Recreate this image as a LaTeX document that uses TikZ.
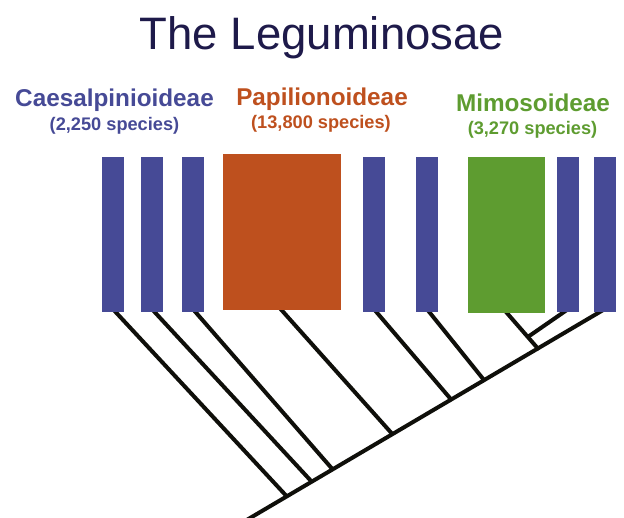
\documentclass[tikz,border=0pt]{standalone}
\usepackage{fontspec}
\setmainfont{Liberation Sans}
\usetikzlibrary{calc,backgrounds}

\definecolor{titlenavy}{RGB}{30,26,74}
\definecolor{caesblue}{RGB}{70,74,150}
\definecolor{papiorange}{RGB}{190,80,30}
\definecolor{mimogreen}{RGB}{94,156,48}
\definecolor{treeblack}{RGB}{15,15,10}

\tikzset{
  bar/.style={rectangle, inner sep=0pt, minimum width=22pt, minimum height=155pt, fill=caesblue},
  branch/.style={draw=treeblack, line width=4pt},
  group/.style={anchor=base, font=\bfseries\fontsize{24.3}{28}\selectfont},
  count/.style={anchor=base, font=\bfseries\fontsize{18.2}{22}\selectfont}
}

\begin{document}
\begin{tikzpicture}[x=1pt, y=-1pt]
    \useasboundingbox (0,0) rectangle (624,518);

    % Title
    \node[anchor=base, text=titlenavy, font=\fontsize{45.5}{52}\selectfont] (title) at (322,50) {The Leguminosae};

    % Subfamily labels
    \node[group, text=caesblue] (caeslabel) at (114.5,107) {Caesalpinioideae};
    \node[count, text=caesblue] (caescount) at (114.5,131) {(2,250 species)};
    \node[group, text=papiorange] (papilabel) at (322,106) {Papilionoideae};
    \node[count, text=papiorange] (papicount) at (321,129) {(13,800 species)};
    \node[group, text=mimogreen] (mimolabel) at (533,112) {Mimosoideae};
    \node[count, text=mimogreen] (mimocount) at (532.5,135) {(3,270 species)};

    % Lineages
    \node[bar] (b1) at (113,234.5) {};
    \node[bar] (b2) at (152,234.5) {};
    \node[bar] (b3) at (193,234.5) {};
    \node[bar, minimum width=118pt, minimum height=156pt, fill=papiorange] (pap) at (282,232) {};
    \node[bar] (b4) at (374,234.5) {};
    \node[bar] (b5) at (427,234.5) {};
    \node[bar, minimum width=77pt, minimum height=156pt, fill=mimogreen] (mim) at (506.5,235) {};
    \node[bar] (b6) at (568,234.5) {};
    \node[bar] (b7) at (604.5,234.5) {};

    % Tree
    \coordinate (root) at (245,521);
    \coordinate (j1) at (287,496.6);
    \coordinate (j2) at (312,482);
    \coordinate (j3) at (333,469.8);
    \coordinate (j4) at (393,434.8);
    \coordinate (j5) at (452,400.5);
    \coordinate (j6) at (485,381.3);
    \coordinate (j7) at (539,349.8);
    \coordinate (j8) at ($([xshift=-2pt]mim.south)!0.66!(j7)$);

    \begin{scope}[on background layer]
        \draw[branch] (root) -- ([yshift=3pt]b7.south);
        \draw[branch] ([yshift=3pt]b1.south) -- (j1);
        \draw[branch] ([yshift=3pt]b2.south) -- (j2);
        \draw[branch] ([yshift=3pt]b3.south) -- (j3);
        \draw[branch] ([xshift=-3pt,yshift=3pt]pap.south) -- (j4);
        \draw[branch] ([yshift=3pt]b4.south) -- (j5);
        \draw[branch] ([yshift=3pt]b5.south) -- (j6);
        \draw[branch] ([xshift=-2pt,yshift=3pt]mim.south) -- (j7);
        \draw[branch] ([yshift=3pt]b6.south) -- (j8);
    \end{scope}
\end{tikzpicture}
\end{document}
